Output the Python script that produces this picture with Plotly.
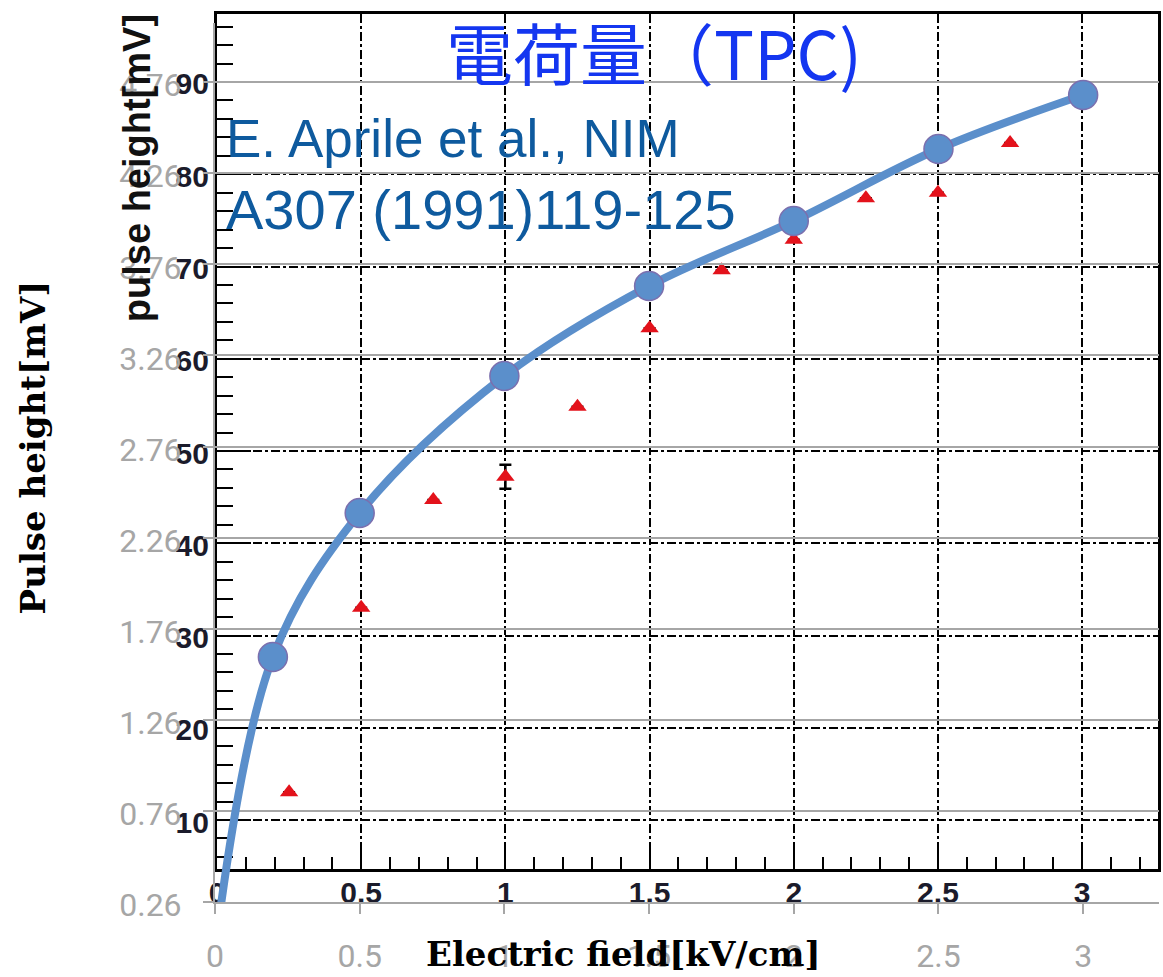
import plotly.graph_objects as go

# ---- data ----
field_model = [0.0, 0.2, 0.5, 1.0, 1.5, 2.0, 2.5, 3.0]           # kV/cm
charge_model = [0.0, 1.605, 2.395, 3.147, 3.641, 3.998, 4.393, 4.689]

field_meas = [0.25, 0.5, 0.75, 1.0, 1.25, 1.5, 1.75, 2.0, 2.25, 2.5, 2.75]
pulse_meas = [13.0, 33.0, 44.7, 47.2, 54.8, 63.3, 69.6, 72.9, 77.4, 78.0, 83.4]
pulse_err = [None, None, None, 1.3, None, None, None, None, None, None, None]

outer_x_ticks = [0, 0.5, 1, 1.5, 2, 2.5, 3]
outer_x_labels = ["0", "0.5", "1", "1.5", "2", "2.5", "3"]
outer_y_ticks = [0.26, 0.76, 1.26, 1.76, 2.26, 2.76, 3.26, 3.76, 4.26, 4.76]
outer_y_labels = ["0.26", "0.76", "1.26", "1.76", "2.26", "2.76", "3.26", "3.76", "4.26", "4.76"]
inner_x_ticks = [0, 0.5, 1, 1.5, 2, 2.5, 3]
inner_x_labels = ["0", "0.5", "1", "1.5", "2", "2.5", "3"]
inner_y_ticks = [10, 20, 30, 40, 50, 60, 70, 80, 90]
inner_y_labels = ["10", "20", "30", "40", "50", "60", "70", "80", "90"]

title_text = "電荷量（TPC)"
ref_line1 = "E. Aprile et al., NIM"
ref_line2 = "A307 (1991)119-125"
inner_y_title = "pulse height[mV]"
x_title = "Electric field[kV/cm]"
y_title = "Pulse height[mV]"

BLUE = "#5B8FCB"
GRAY = "#A6A6A6"
INK = "#1B1B2B"

W, H = 1163, 977
L, T, R, B = 215, 14, 2, 75
PW, PH = W - L - R, H - T - B


def px(xp):  # page pixel -> paper x
    return (xp - L) / PW


def py(yp):  # page pixel -> paper y
    return (H - B - yp) / PH


fig = go.Figure()

# scanned measurement (inner axes)
fig.add_trace(go.Scatter(
    x=field_meas, y=pulse_meas, mode="markers", xaxis="x", yaxis="y",
    marker=dict(symbol="triangle-up", size=16, color="#E3121B"),
    error_y=dict(type="data", array=pulse_err, color="black", thickness=2.5, width=6),
    showlegend=False, hoverinfo="skip",
))

# model curve (outer axes)
fig.add_trace(go.Scatter(
    x=field_model, y=charge_model, mode="lines+markers", xaxis="x2", yaxis="y2",
    line=dict(color=BLUE, width=8, shape="spline", smoothing=1),
    marker=dict(size=29, color=BLUE, line=dict(color="#7B6FAE", width=1.5)),
    showlegend=False, hoverinfo="skip",
))

fig.update_layout(
    width=W, height=H,
    margin=dict(l=L, r=R, t=T, b=B, pad=0),
    paper_bgcolor="white", plot_bgcolor="rgba(0,0,0,0)",
    font=dict(family="Liberation Sans", color=INK),
    xaxis=dict(
        domain=[px(217), px(1160)], anchor="y", range=[0, (1160 - 217) / 289],
        tickmode="array", tickvals=inner_x_ticks, ticktext=inner_x_labels,
        showline=True, linecolor="black", linewidth=3, mirror=True,
        ticks="inside", ticklen=20, tickwidth=2, tickcolor="black",
        minor=dict(ticks="inside", dtick=0.1, tick0=0, ticklen=12, tickwidth=2,
                   tickcolor="black", showgrid=False),
        showgrid=True, gridcolor="black", gridwidth=2, griddash="dashdot",
        zeroline=False, ticklabelstandoff=-5,
        tickfont=dict(family="Liberation Sans", size=30, color=INK, weight="bold"),
    ),
    yaxis=dict(
        domain=[py(869), 1], anchor="x", range=[4.69, 97.37],
        tickmode="array", tickvals=inner_y_ticks, ticktext=inner_y_labels,
        showline=True, linecolor="black", linewidth=3, mirror=True,
        ticks="inside", ticklen=34, tickwidth=2, tickcolor="black",
        minor=dict(ticks="inside", dtick=2, tick0=0, ticklen=16, tickwidth=2,
                   tickcolor="black", showgrid=False),
        showgrid=True, gridcolor="black", gridwidth=2, griddash="dashdot",
        zeroline=False, ticklabelstandoff=-1, ticklabelshift=2,
        tickfont=dict(family="Liberation Sans", size=30, color=INK, weight="bold"),
    ),
    xaxis2=dict(
        domain=[0, 1], anchor="y2", range=[0, (1161 - 215) / 290],
        tickmode="array", tickvals=outer_x_ticks, ticktext=outer_x_labels,
        showgrid=False, zeroline=False,
        showline=True, linecolor=GRAY, linewidth=2,
        ticks="outside", ticklen=10, tickwidth=2, tickcolor=GRAY,
        ticklabelstandoff=15,
        tickfont=dict(family="Roboto", size=32, color=GRAY),
    ),
    yaxis2=dict(
        domain=[0, py(23)], anchor="x2", range=[0.26, 0.26 + (902 - 23) / 182.2],
        tickmode="array", tickvals=outer_y_ticks, ticktext=outer_y_labels,
        showgrid=True, gridcolor=GRAY, gridwidth=2, zeroline=False,
        showline=True, linecolor=GRAY, linewidth=2,
        ticks="outside", ticklen=10, tickwidth=2, tickcolor=GRAY,
        ticklabelstandoff=15, ticklabelshift=3,
        tickfont=dict(family="Roboto", size=32, color=GRAY),
    ),
    annotations=[
        dict(text=title_text, x=px(444), y=py(51), xref="paper", yref="paper",
             xanchor="left", yanchor="middle", showarrow=False,
             font=dict(family="Noto Sans CJK JP", size=67, color="#1436F0")),
        dict(text=ref_line1, x=px(224), y=py(139), xref="paper", yref="paper",
             xanchor="left", yanchor="middle", showarrow=False,
             font=dict(family="Liberation Sans", size=53, color="#0E5A9E")),
        dict(text=ref_line2, x=px(224), y=py(209), xref="paper", yref="paper",
             xanchor="left", yanchor="middle", showarrow=False,
             font=dict(family="Liberation Sans", size=56, color="#0E5A9E")),
        dict(text=inner_y_title, x=px(137), y=py(168), xref="paper", yref="paper",
             xanchor="center", yanchor="middle", showarrow=False, textangle=-90,
             font=dict(family="Liberation Sans", size=38, color="#111111", weight="bold")),
        dict(text=y_title, x=px(33), y=py(447), xref="paper", yref="paper",
             xanchor="center", yanchor="middle", showarrow=False, textangle=-90,
             font=dict(family="DejaVu Serif", size=34, color="black", weight="bold")),
        dict(text=x_title, x=px(624), y=py(954), xref="paper", yref="paper",
             xanchor="center", yanchor="middle", showarrow=False,
             font=dict(family="DejaVu Serif", size=34, color="black", weight="bold")),
    ],
)

# remove the default page margin / overflow so the figure fills the window exactly
page_fix = (
    "document.documentElement.style.margin='0';"
    "document.documentElement.style.overflow='hidden';"
    "document.body.style.margin='0';"
    "document.body.style.overflow='hidden';"
    "var g=document.getElementById('{plot_id}');"
    "g.style.overflow='hidden';"
)
fig.write_html("out.html", config={"displayModeBar": False}, post_script=page_fix)
